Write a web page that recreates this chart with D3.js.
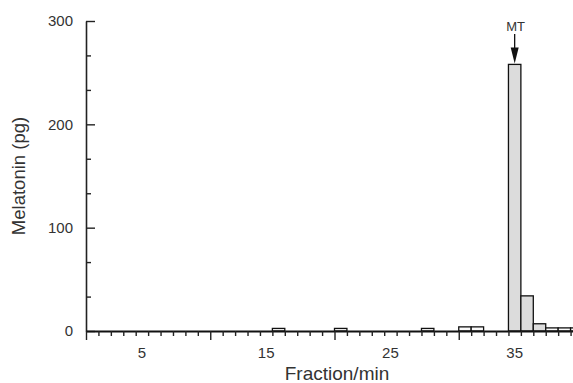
<!DOCTYPE html>
<html>
<head>
<meta charset="utf-8">
<script src="https://cdn.jsdelivr.net/npm/d3@7"></script>
<style>
  body { margin: 0; background: #fff; }
  svg { display: block; font-family: "Liberation Sans", Arial, sans-serif; }
</style>
</head>
<body>
<svg id="svg"></svg>
<script>
// fraction number (1 min each) and melatonin (pg)
const fractions = [1, 2, 3, 4, 5, 6, 7, 8, 9, 10, 11, 12, 13, 14, 15, 16, 17, 18, 19, 20,
  21, 22, 23, 24, 25, 26, 27, 28, 29, 30, 31, 32, 33, 34, 35, 36, 37, 38, 39, 40];
const melatonin = [0, 0, 0, 0, 0, 0, 0, 0, 0, 0, 0, 0, 0, 0, 0, 2.5, 0, 0, 0, 0,
  2.5, 0, 0, 0, 0, 0, 0, 2.5, 0, 0, 4, 4, 0, 0, 258, 34, 7, 3, 3, 3];
const xLabels = [5, 15, 25, 35];
const yLabels = [0, 100, 200, 300];
const yMinor = [33.3, 66.7, 133.3, 166.7, 233.3, 266.7];
const xMajor = [0, 10, 20, 30, 40];
const xMinor = [1, 2, 3, 4, 5, 6, 7, 8, 9, 11, 12, 13, 14, 15, 16, 17, 18, 19,
  21, 22, 23, 24, 25, 26, 27, 28, 29, 31, 32, 33, 34, 35, 36, 37, 38, 39];
const markFraction = 35;
const markLabel = 'MT';

const width = 573, height = 383;
const svg = d3.select('#svg').attr('width', width).attr('height', height);

const x = d3.scaleLinear().domain([0, 40]).range([86, 583]);
const y = d3.scaleLinear().domain([0, 300]).range([331, 21]);

// bars: fraction n fills the interval [n-1, n]
svg.append('g')
  .selectAll('rect')
  .data(fractions)
  .join('rect')
  .attr('x', (d) => x(d - 1))
  .attr('width', (d) => x(d) - x(d - 1))
  .attr('y', (d, i) => y(melatonin[i]))
  .attr('height', (d, i) => y(0) - y(melatonin[i]))
  .attr('fill', (d, i) => (melatonin[i] > 5 ? '#dcdcdc' : '#fafafa'))
  .attr('stroke', '#111')
  .attr('stroke-width', 1.3);

// y axis, ticks pointing inward
const yAxis = svg.append('g').attr('transform', `translate(${x(0)},0)`);
yAxis.call(
  d3.axisLeft(y).tickValues(yLabels).tickSizeInner(-9).tickSizeOuter(0).tickPadding(13)
);
yAxis.append('g').call(
  d3.axisLeft(y).tickValues(yMinor).tickSizeInner(-5).tickSizeOuter(0).tickFormat('')
).select('.domain').remove();
yAxis.selectAll('.domain').attr('stroke', '#222').attr('stroke-width', 1.6);
yAxis.selectAll('.tick line').attr('stroke', '#222').attr('stroke-width', 1.4);
yAxis.selectAll('.tick text')
  .attr('font-size', 15).attr('fill', '#333')
  .attr('font-family', '"Liberation Sans", Arial, sans-serif');

// x axis, ticks pointing outward
const xAxis = svg.append('g').attr('transform', `translate(0,${y(0)})`);
xAxis.call(d3.axisBottom(x).tickValues(xMajor).tickSizeInner(9).tickSizeOuter(0).tickFormat(''));
xAxis.append('g').call(
  d3.axisBottom(x).tickValues(xMinor).tickSizeInner(5).tickSizeOuter(0).tickFormat('')
).select('.domain').remove();
xAxis.selectAll('.domain').attr('stroke', '#111').attr('stroke-width', 2.2);
xAxis.selectAll('.tick line').attr('stroke', '#222').attr('stroke-width', 1.4);

// x labels sit in the middle of their fraction
svg.append('g')
  .selectAll('text')
  .data(xLabels)
  .join('text')
  .attr('x', (d) => x(d - 0.5))
  .attr('y', 358)
  .attr('text-anchor', 'middle')
  .attr('font-size', 15)
  .attr('fill', '#333')
  .text((d) => d);

svg.append('text')
  .attr('x', 337)
  .attr('y', 380)
  .attr('text-anchor', 'middle')
  .attr('font-size', 19)
  .attr('fill', '#333')
  .text('Fraction/min');

svg.append('text')
  .attr('transform', 'translate(25,176) rotate(-90)')
  .attr('text-anchor', 'middle')
  .attr('font-size', 18.5)
  .attr('fill', '#333')
  .text('Melatonin (pg)');

// MT marker arrow
const mi = fractions.indexOf(markFraction);
const mx = x(markFraction - 0.5);
const tip = y(melatonin[mi]) - 1;
svg.append('text')
  .attr('x', mx + 1)
  .attr('y', 31)
  .attr('text-anchor', 'middle')
  .attr('font-size', 13)
  .attr('fill', '#333')
  .text(markLabel);
svg.append('line')
  .attr('x1', mx).attr('x2', mx)
  .attr('y1', 34).attr('y2', tip - 10)
  .attr('stroke', '#111')
  .attr('stroke-width', 1.3);
svg.append('path')
  .attr('d', `M${mx - 4},${tip - 16}L${mx + 4},${tip - 16}L${mx},${tip}Z`)
  .attr('fill', '#111');
</script>
</body>
</html>
